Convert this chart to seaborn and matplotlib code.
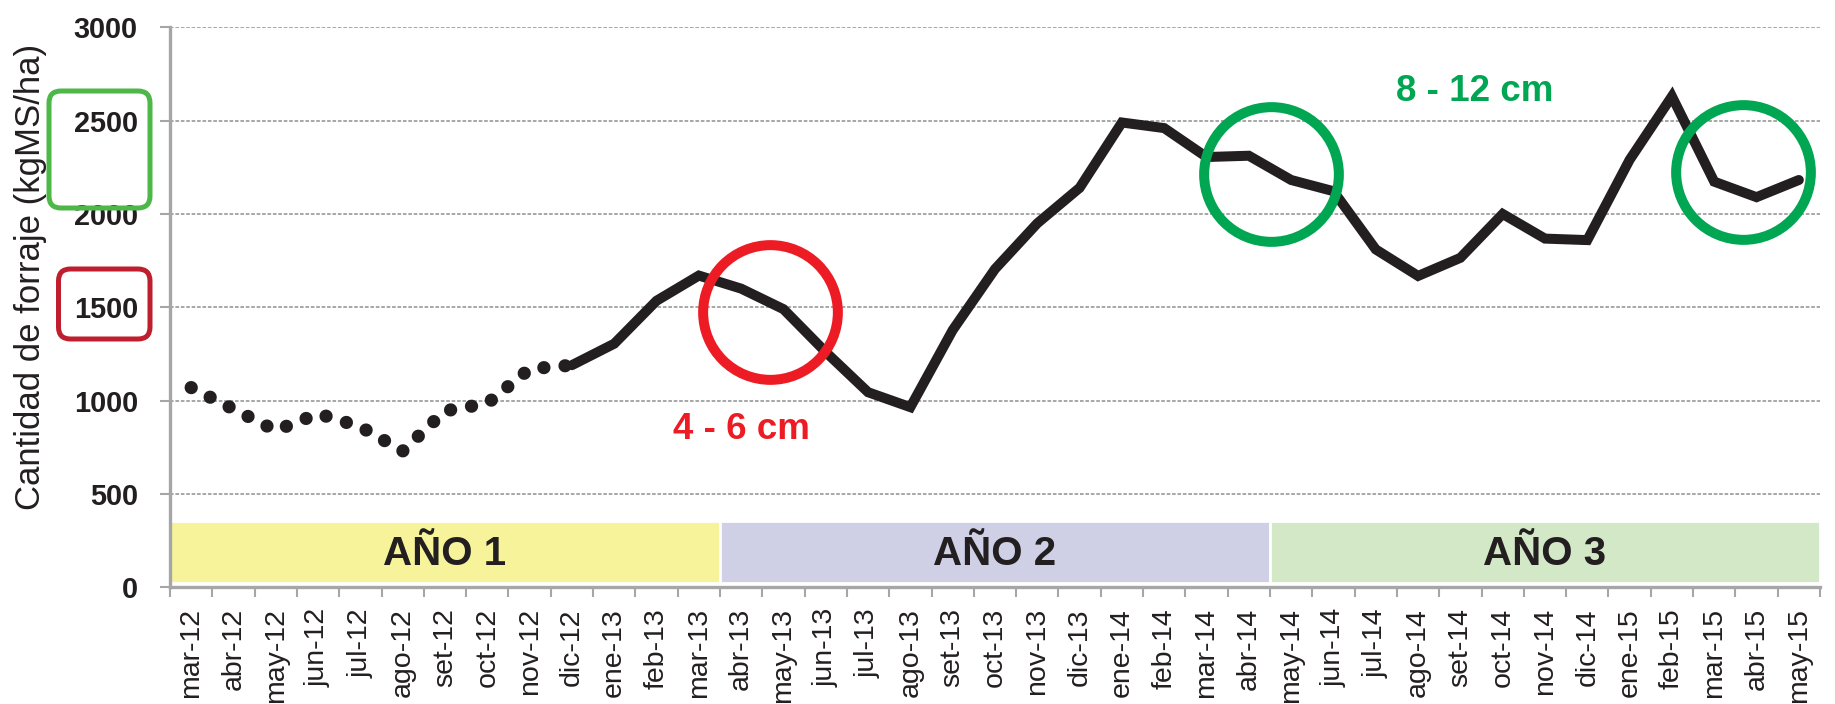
import matplotlib
matplotlib.use('Agg')
import matplotlib.pyplot as plt
import seaborn as sns
import pandas as pd
from matplotlib import font_manager
from matplotlib.patches import FancyBboxPatch
from matplotlib.transforms import IdentityTransform

# Monthly forage values (kgMS/ha)
meses = ['mar-12', 'abr-12', 'may-12', 'jun-12', 'jul-12', 'ago-12', 'set-12', 'oct-12',
         'nov-12', 'dic-12', 'ene-13', 'feb-13', 'mar-13', 'abr-13', 'may-13', 'jun-13',
         'jul-13', 'ago-13', 'set-13', 'oct-13', 'nov-13', 'dic-13', 'ene-14', 'feb-14',
         'mar-14', 'abr-14', 'may-14', 'jun-14', 'jul-14', 'ago-14', 'set-14', 'oct-14',
         'nov-14', 'dic-14', 'ene-15', 'feb-15', 'mar-15', 'abr-15', 'may-15']
forraje = [1070, 955, 840, 930, 860, 730, 945, 985,
           1170, 1190, 1305, 1535, 1670, 1600, 1490, 1260,
           1045, 965, 1378, 1705, 1950, 2140, 2490, 2460,
           2305, 2312, 2182, 2122, 1810, 1668, 1765, 2000,
           1868, 1860, 2290, 2630, 2173, 2090, 2182]
# first year is estimated (dotted) up to this month
ultimo_estimado = 'dic-12'

anios = ['AÑO 1', 'AÑO 2', 'AÑO 3']
inicio_anio = ['mar-12', 'abr-13', 'may-14']
rangos = ['4 - 6 cm', '8 - 12 cm']

df = pd.DataFrame({'mes': meses, 'forraje': forraje})
df['pos'] = range(len(df))
corte = meses.index(ultimo_estimado)
estimado = df.iloc[:corte + 1]
medido = df.iloc[corte:]

sns.set_theme(style='white')
nombres = {f.name for f in font_manager.fontManager.ttflist}
narrow = 'Liberation Sans Narrow' in nombres
fuente = 'Liberation Sans Narrow' if narrow else 'Liberation Sans'
escala = 1.0 if narrow else 0.82
plt.rcParams['font.family'] = [fuente, 'DejaVu Sans']

negro = '#231F20'
gris = '#A6A6A6'
rojo = '#ED1C24'
verde = '#00A651'
colores_anio = ['#F7F39B', '#CFCFE6', '#D2E8C6']

fig = plt.figure(figsize=(18.35, 7.04), dpi=100)
ax = fig.add_axes([170 / 1835, 1 - 587.3 / 704, 1650 / 1835, 560 / 704])

# year bands
n = len(meses)
inicios = [meses.index(m) - 0.5 for m in inicio_anio]
finales = inicios[1:] + [n - 0.5]
anchos = [f - i for i, f in zip(inicios, finales)]
ax.bar(inicios, [332] * 3, bottom=25, width=anchos, align='edge',
       color=colores_anio, edgecolor='white', linewidth=2, zorder=1)
for nombre, i, f in zip(anios, inicios, finales):
    ax.text((i + f) / 2, 180, nombre, ha='center', va='center', fontsize=29,
            fontweight='bold', color=negro, family=['Liberation Sans', 'DejaVu Sans'], zorder=3)

# forage line: dotted estimate, then solid
sns.lineplot(data=estimado, x='pos', y='forraje', ax=ax, color=negro, linewidth=9.5,
             linestyle=(0, (0.01, 1.6)), dash_capstyle='round', zorder=4)
sns.lineplot(data=medido, x='pos', y='forraje', ax=ax, color=negro, linewidth=7.2,
             solid_capstyle='round', solid_joinstyle='miter', zorder=4)

# highlight circles
ax.plot([13.68], [1473], 'o', ms=97, mfc='none', mec=rojo, mew=7.2, zorder=5)
ax.plot([25.52, 36.69], [2216, 2225], 'o', ms=97, mfc='none', mec=verde, mew=7.2,
        linestyle='none', zorder=5)
ax.text(13.01, 843, rangos[0], ha='center', va='center', fontsize=26.5, fontweight='bold',
        color=rojo, family=['Liberation Sans', 'DejaVu Sans'])
ax.text(30.34, 2655, rangos[1], ha='center', va='center', fontsize=26.5, fontweight='bold',
        color=verde, family=['Liberation Sans', 'DejaVu Sans'])

ax.set_xlim(-0.5, n - 0.5)
ax.set_ylim(0, 3000)
ax.set_xlabel('')
ax.set_ylabel('Cantidad de forraje (kgMS/ha)', fontsize=25 / escala * 0.82 if narrow else 25,
              color=negro)
ax.yaxis.set_label_coords(-0.0745, 0.554)

ax.set_xticks(df['pos'])
ax.set_xticklabels(meses, rotation=90, fontsize=25 * escala, color=negro)
ax.set_xticks([p - 0.5 for p in range(n + 1)], minor=True)
ax.tick_params(axis='x', which='major', bottom=True, length=0, pad=15)
ax.tick_params(axis='x', which='minor', bottom=True, length=7.2, width=1.5, color=gris)
ax.set_yticks(range(0, 3001, 500))
ax.tick_params(axis='y', left=True, length=7.2, width=1.5, color=gris, pad=16)
for t in ax.get_yticklabels():
    t.set_fontsize(23.5 * escala + (0 if narrow else 1.5))
    t.set_fontweight('bold')
    t.set_color(negro)

ax.yaxis.grid(True, color='#A0A0A0', linestyle=(0, (2, 1)), linewidth=1.3)
ax.set_axisbelow(True)
for lado in ['top', 'right']:
    ax.spines[lado].set_visible(False)
for lado in ['left', 'bottom']:
    ax.spines[lado].set_color(gris)
    ax.spines[lado].set_linewidth(2.4)

# boxes around the tick labels of each height range
for x0, y0, w, h, c in [(49, 496, 101, 117, '#4DB848'), (58.5, 365, 91.5, 70, '#BE1E2D')]:
    caja = FancyBboxPatch((x0, y0), w, h, boxstyle='round,pad=0,rounding_size=12',
                          fill=False, edgecolor=c, linewidth=3.6,
                          transform=IdentityTransform())
    fig.add_artist(caja)

fig.savefig('out.png', dpi=100)
